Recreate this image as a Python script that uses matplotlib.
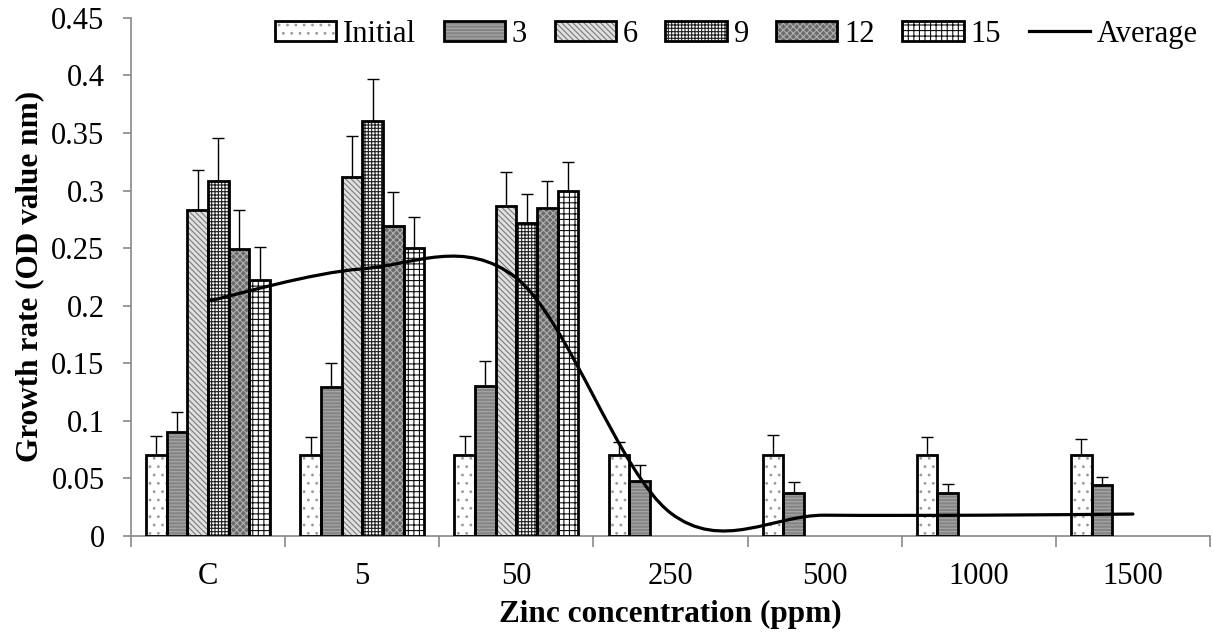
import numpy as np
import matplotlib
matplotlib.use("Agg")
import matplotlib.pyplot as plt
from matplotlib.patches import Patch, PathPatch
from matplotlib.path import Path
from matplotlib.lines import Line2D

plt.rcParams['font.family'] = ['Liberation Serif', 'DejaVu Serif']
plt.rcParams['hatch.linewidth'] = 0.8

# data
categories = ['C', '5', '50', '250', '500', '1000', '1500']
series_names = ['Initial', '3', '6', '9', '12', '15']

initial = [0.070, 0.070, 0.070, 0.070, 0.070, 0.070, 0.070]
initial_err = [0.017, 0.016, 0.017, 0.012, 0.018, 0.016, 0.014]
d3 = [0.090, 0.129, 0.130, 0.048, 0.037, 0.037, 0.044]
d3_err = [0.018, 0.021, 0.022, 0.014, 0.010, 0.008, 0.007]
# days 6-15 only measured for C, 5 and 50
d6 = [0.283, 0.312, 0.287]
d6_err = [0.035, 0.035, 0.029]
d9 = [0.308, 0.360, 0.272]
d9_err = [0.038, 0.037, 0.025]
d12 = [0.249, 0.269, 0.285]
d12_err = [0.034, 0.030, 0.023]
d15 = [0.222, 0.250, 0.300]
d15_err = [0.029, 0.027, 0.025]

average = [0.204, 0.232, 0.224, 0.020, 0.018, 0.018, 0.019]

series = [(initial, initial_err), (d3, d3_err), (d6, d6_err),
          (d9, d9_err), (d12, d12_err), (d15, d15_err)]

# (facecolor, hatch, hatch colour)
styles = [('white', '..', '#9a9a9a'),
          ('#858585', '-----', '#a8a8a8'),
          ('#e0e0e0', '\\\\\\\\\\\\', '#7a7a7a'),
          ('white', '+++++', '#202020'),
          ('#6a6a6a', 'xxxxx', '#b0b0b0'),
          ('white', '+++', '#101010')]

fig, ax = plt.subplots(figsize=(12.13, 6.38), dpi=100)
fig.subplots_adjust(left=0.108, right=0.9975, top=0.972, bottom=0.16)

x = np.arange(len(categories))
width = 0.134
handles = []
for i, ((vals, errs), (fc, hatch, hc)) in enumerate(zip(series, styles)):
    pos = x[:len(vals)] + (i - 2.5) * width
    ax.bar(pos, vals, width, color=fc, hatch=hatch, edgecolor=hc, linewidth=0, zorder=2)
    ax.bar(pos, vals, width, fill=False, edgecolor='black', linewidth=2.0, zorder=3)
    ax.errorbar(pos, vals, yerr=[np.zeros(len(errs)), errs], fmt='none',
                ecolor='black', elinewidth=1.0, capsize=4.3, capthick=1.0, zorder=1)
    handles.append((Patch(facecolor=fc, hatch=hatch, edgecolor=hc, linewidth=0),
                    Patch(fill=False, edgecolor='black', linewidth=2.0)))

# smoothed average line (Excel style bezier through the points)
pts = np.column_stack([x, average]).astype(float)
n = len(pts)
verts = [pts[0]]
codes = [Path.MOVETO]
for i in range(n - 1):
    p0 = pts[max(i - 1, 0)]
    p1 = pts[i]
    p2 = pts[i + 1]
    p3 = pts[min(i + 2, n - 1)]
    verts += [p1 + (p2 - p0) / 6, p2 - (p3 - p1) / 6, p2]
    codes += [Path.CURVE4] * 3
ax.add_patch(PathPatch(Path(verts, codes), fill=False, edgecolor='black',
                       linewidth=2.3, zorder=4, capstyle='round'))
handles.append(Line2D([], [], color='black', linewidth=2.3))

ax.set_xlim(-0.5, len(categories) - 0.5)
ax.set_ylim(0, 0.45)
ax.set_yticks(np.arange(0, 0.451, 0.05))
ax.set_yticklabels(['0', '0.05', '0.1', '0.15', '0.2', '0.25', '0.3', '0.35', '0.4', '0.45'])
ax.set_xticks(x)
ax.set_xticklabels(categories)
ax.set_xticks(np.arange(-0.5, len(categories)), minor=True)
ax.tick_params(axis='x', which='major', length=0, pad=19, labelsize=22)
ax.tick_params(axis='x', which='minor', length=8, color='#898989', width=1.2)
ax.tick_params(axis='y', length=6, color='#898989', width=1.2, pad=13, labelsize=22)

for s in ['top', 'right']:
    ax.spines[s].set_visible(False)
for s in ['left', 'bottom']:
    ax.spines[s].set_color('#898989')
    ax.spines[s].set_linewidth(1.2)

ax.set_xlabel('Zinc concentration (ppm)', fontsize=22.5, fontweight='bold', labelpad=6)
ax.set_ylabel('Growth rate (OD value nm)', fontsize=22.5, fontweight='bold', labelpad=5)

ax.legend(handles, series_names + ['Average'], ncol=7, loc='upper right',
          bbox_to_anchor=(1.0, 1.02), frameon=False, fontsize=22,
          handlelength=2.0, handleheight=0.6, handletextpad=0.23,
          columnspacing=0.9, borderaxespad=0)

plt.savefig('out.png', dpi=100)
